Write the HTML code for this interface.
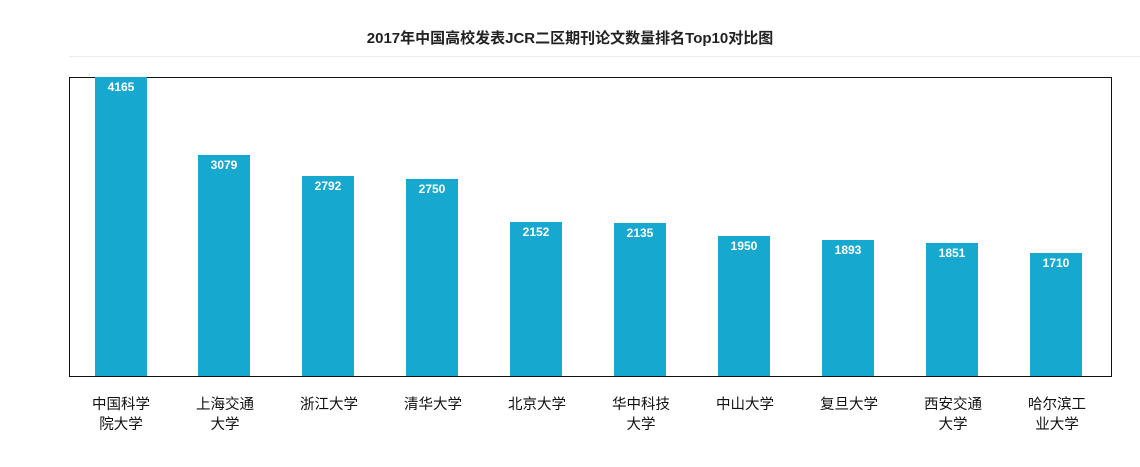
<!DOCTYPE html>
<html><head><meta charset="utf-8"><style>
body{margin:0;width:1140px;height:467px;background:#fff;position:relative;font-family:"Liberation Sans","Noto Sans CJK SC",sans-serif;overflow:hidden}
.t{position:absolute;top:27px;left:0;width:1140px;text-align:center;font-size:15px;font-weight:bold;color:#222}
.sep{position:absolute;top:56px;left:69px;right:0;height:1px;background:#ececec}
.box{position:absolute;left:69px;top:77px;width:1041px;height:298px;border:1px solid #111}
.bar{position:absolute;width:52px;background:#17a8d0;color:#fff;font-size:12px;font-weight:bold;text-align:center;padding-top:3px;box-sizing:border-box;bottom:91px}
.lb{position:absolute;top:395px;width:104px;text-align:center;font-size:14.5px;line-height:20px;color:#111}
</style></head><body>
<div class="t">2017年中国高校发表JCR二区期刊论文数量排名Top10对比图</div>
<div class="sep"></div>
<div class="box"></div>
<div class="bar" style="left:95px;height:299px">4165</div>
<div class="bar" style="left:198px;height:221px">3079</div>
<div class="bar" style="left:302px;height:200px">2792</div>
<div class="bar" style="left:406px;height:197px">2750</div>
<div class="bar" style="left:510px;height:154px">2152</div>
<div class="bar" style="left:614px;height:153px">2135</div>
<div class="bar" style="left:718px;height:140px">1950</div>
<div class="bar" style="left:822px;height:136px">1893</div>
<div class="bar" style="left:926px;height:133px">1851</div>
<div class="bar" style="left:1030px;height:123px">1710</div>
<div class="lb" style="left:69px">中国科学<br>院大学</div>
<div class="lb" style="left:173px">上海交通<br>大学</div>
<div class="lb" style="left:277px">浙江大学</div>
<div class="lb" style="left:381px">清华大学</div>
<div class="lb" style="left:485px">北京大学</div>
<div class="lb" style="left:589px">华中科技<br>大学</div>
<div class="lb" style="left:693px">中山大学</div>
<div class="lb" style="left:797px">复旦大学</div>
<div class="lb" style="left:901px">西安交通<br>大学</div>
<div class="lb" style="left:1005px">哈尔滨工<br>业大学</div>
</body></html>
